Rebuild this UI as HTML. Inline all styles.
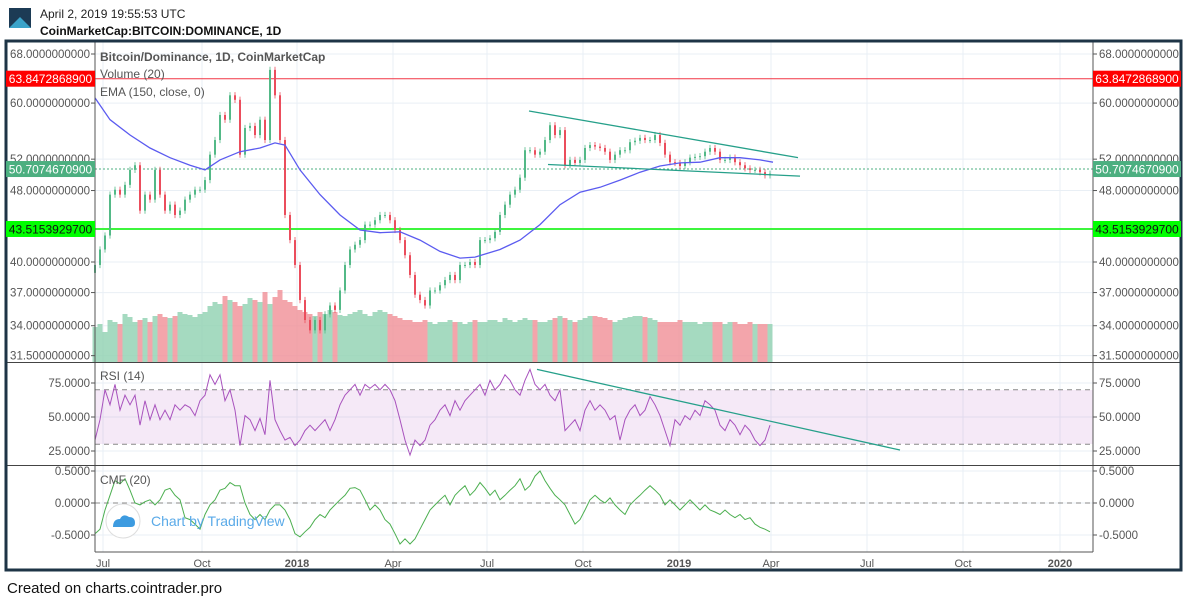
<!DOCTYPE html>
<html><head><meta charset="utf-8"><style>
body{margin:0;background:#fff;width:1187px;height:602px;overflow:hidden;font-family:"Liberation Sans",sans-serif}
svg text{font-family:"Liberation Sans",sans-serif}
</style></head><body>
<svg id="chart" width="1187" height="602" viewBox="0 0 1187 602" xmlns="http://www.w3.org/2000/svg">
<g>
 <polygon points="9,28 20,12 31,28" fill="#3aa3c9"/>
 <polygon points="9,28 9,8 31,8 31,28 20,17" fill="#1c3b55"/>
 <text x="40" y="18" font-size="12" fill="#222">April 2, 2019 19:55:53 UTC</text>
 <text x="40" y="35" font-size="12" font-weight="bold" fill="#111">CoinMarketCap:BITCOIN:DOMINANCE, 1D</text>
</g>
<g id="grid"></g>
<rect x="95" y="390" width="998" height="54" fill="#9c27b0" fill-opacity="0.1"/>
<g id="marks"></g>
<g id="frame">
 <line x1="95" y1="42" x2="95" y2="552" stroke="#555" stroke-width="1"/>
 <line x1="1093" y1="42" x2="1093" y2="552" stroke="#555" stroke-width="1"/>
 <line x1="6" y1="362.5" x2="1181" y2="362.5" stroke="#444"/>
 <line x1="6" y1="465.5" x2="1181" y2="465.5" stroke="#444"/>
 <line x1="95" y1="552" x2="1093" y2="552" stroke="#555"/>
 <rect x="6" y="41" width="1175" height="529" fill="none" stroke="#1e3446" stroke-width="3"/>
</g>
<g id="labels"></g>
<g font-size="12" fill="#555">
 <text x="100" y="61" font-weight="bold">Bitcoin/Dominance, 1D, CoinMarketCap</text>
 <text x="100" y="78">Volume (20)</text>
 <text x="100" y="96">EMA (150, close, 0)</text>
 <text x="100" y="380">RSI (14)</text>
 <text x="100" y="484">CMF (20)</text>
</g>
<g>
 <circle cx="123" cy="521" r="17" fill="#fff" fill-opacity="0.85" stroke="#ddd"/>
 <path d="M113,527 q0,-8 7,-8 q3,-6 9,-2 q6,0 6,6 q0,4 -4,4 z" fill="#3d9be0"/>
 <text x="151" y="526" font-size="14" fill="#5aaae8">Chart by TradingView</text>
</g>
<text x="7" y="593" font-size="15" fill="#111">Created on charts.cointrader.pro</text>
</svg>
<script>
const closes=[39.7,41.3,42.8,47.5,48.1,47.5,48.7,50.6,51.2,45.6,47.5,46.9,50.6,47.5,45.6,46.3,45.1,45.6,46.9,47.5,48.1,48.1,49.3,52.6,54.6,58.2,57.5,61.2,60.5,52.6,56.3,56.6,55.3,57.5,54.6,65.3,61.2,54.6,45.1,42.3,39.7,36.3,34.5,33.6,34.5,33.6,35.0,35.8,35.4,37.2,39.7,41.3,41.8,42.3,44.0,44.0,44.5,45.1,45.1,44.5,43.4,42.3,40.7,38.7,36.8,36.3,35.8,37.2,37.2,37.7,38.2,38.7,38.2,39.7,39.7,40.0,39.7,42.3,42.3,42.5,43.2,45.1,46.3,47.5,48.1,49.6,53.2,53.2,52.6,53.0,54.6,56.7,55.3,56.0,51.2,51.9,51.5,51.9,53.5,53.9,53.7,53.5,53.0,51.9,52.6,53.2,53.2,54.3,54.5,54.9,54.6,54.6,55.3,54.2,52.6,51.6,51.5,51.1,51.6,52.2,52.3,52.4,53.0,53.5,53.0,51.9,51.9,52.2,51.6,51.2,50.8,50.6,50.6,50.3,49.9,50.1];
const volumes=[35,38,30,42,40,38,48,45,40,42,44,40,46,48,45,44,46,50,48,47,45,48,50,56,60,58,66,62,60,56,58,64,62,60,70,58,65,72,62,60,56,52,50,48,46,50,48,52,50,47,46,48,50,52,48,46,50,52,50,48,46,44,42,42,40,40,42,40,38,40,40,42,40,40,38,40,42,40,40,42,42,40,44,42,40,42,44,42,42,40,40,42,44,46,44,42,40,42,44,46,46,45,44,42,40,42,44,45,46,46,45,44,42,40,40,40,40,42,40,40,40,38,40,40,40,40,38,40,40,38,38,40,38,38,38,38];
const emaIdx=[0,3,7,11,15,19,22,25,29,33,36,38,41,45,49,53,57,61,65,69,73,76,81,85,89,93,97,101,105,109,113,117,121,125,129,133,135.6];
const emaVals=[60.8,57.5,55.3,53.5,52.2,51.2,50.6,51.9,53.0,53.5,54.2,53.9,50.6,47.5,45.1,43.4,43.1,43.2,42.3,41.1,40.4,40.5,41.3,42.3,44.0,46.3,47.8,48.4,49.3,50.3,51.1,51.5,51.6,52.2,52.2,51.9,51.6];
const rsiVals=[33,48,70,59,74,55,66,59,66,44,62,48,59,48,55,48,59,55,59,57,51,62,66,81,74,81,62,70,55,29,51,48,40,49,37,77,48,40,33,35,29,33,40,44,40,44,48,40,48,59,66,70,74,66,74,71,74,70,74,70,62,48,33,22,33,29,33,44,48,55,59,51,62,55,62,66,70,74,66,77,70,74,81,77,70,66,77,85,74,70,74,66,62,70,40,44,48,40,55,62,55,59,55,48,51,33,48,55,59,51,55,65,59,51,40,29,48,44,51,48,55,51,62,59,55,44,40,48,44,37,44,40,33,29,33,44];
const cmfVals=[-0.48,-0.41,-0.11,0.12,0.35,0.30,0.38,0.20,0,-0.03,0.02,0.05,-0.03,0.05,0.20,0.23,0.12,0.05,-0.23,-0.26,-0.33,-0.41,-0.18,-0.03,0.05,0.20,0.23,0.32,0.27,0.27,0,-0.18,-0.26,-0.18,-0.26,-0.11,-0.03,-0.03,-0.11,-0.26,-0.48,-0.53,-0.45,-0.38,-0.26,-0.18,-0.23,-0.11,-0.03,0.05,0.12,0.23,0.24,0.20,0.05,-0.11,-0.03,-0.11,-0.26,-0.33,-0.48,-0.64,-0.56,-0.64,-0.56,-0.41,-0.26,-0.11,-0.03,0.05,0.12,-0.03,0.12,0.20,0.27,0.12,0.20,0.32,0.23,0.12,0.20,0.05,0.12,0.20,0.27,0.38,0.20,0.27,0.42,0.50,0.35,0.23,0.12,0.05,-0.03,-0.18,-0.33,-0.26,-0.11,0.05,0.12,0.05,0,0.08,-0.03,-0.11,-0.18,-0.03,0.05,0.12,0.20,0.27,0.20,0.12,-0.03,0.05,-0.03,-0.11,-0.03,0.05,-0.03,-0.11,-0.03,-0.11,-0.14,-0.18,-0.11,-0.18,-0.23,-0.18,-0.26,-0.23,-0.33,-0.38,-0.41,-0.45];
const priceTicks=[68,60,52,48,40,37,34,31.5];
const rsiTicks=[75,50,25];
const cmfTicks=[0.5,0,-0.5];
const timeLabels=["Jul","Oct","2018","Apr","Jul","Oct","2019","Apr","Jul","Oct","2020"];
const timeIdx=[1.6,21.4,40.4,59.6,78.4,97.6,116.8,135.2,154.4,173.6,193];
const levelVals=[63.8472868900,50.7074670900,43.5153929700];
const upperTrend=[[86.8,58.8],[140.6,52.2]];
const lowerTrend=[[90.6,51.3],[141,49.8]];
const rsiTrend=[[88.4,85],[161,25.7]];

const NS="http://www.w3.org/2000/svg";
const X=i=>95+5*i;
const Yp=v=>54+392*Math.log(68/v);
const Yr=v=>451-(v-25)*1.36;
const Yc=v=>503-v*64;
function mk(tag,attrs,parent){const e=document.createElementNS(NS,tag);for(const k in attrs)e.setAttribute(k,attrs[k]);parent.appendChild(e);return e;}
const grid=document.getElementById('grid'),marks=document.getElementById('marks'),labels=document.getElementById('labels');
const gc="#e9eff5";
timeIdx.forEach((t,k)=>{
 const l=mk('line',{x1:X(t),x2:X(t),y1:42,y2:552,stroke:gc},grid);
 
 
 const tx=mk('text',{x:X(t),y:567,'font-size':11,fill:'#555','text-anchor':'middle','font-weight':/^\d/.test(timeLabels[k])?'bold':'normal'},labels);
 tx.textContent=timeLabels[k];
 
 
});
function hTick(y,txt,name){
 const l=mk('line',{x1:95,x2:1093,y1:y,y2:y,stroke:gc},grid);
 
 
 [[90,'end'],[1099,'start']].forEach(([x,a])=>{
  const t=mk('text',{x:x,y:y+4,'font-size':11.5,fill:'#555','text-anchor':a},labels);
  t.textContent=txt;
  
  
  mk('line',{x1:a=='end'?91:1093,x2:a=='end'?95:1097,y1:y,y2:y,stroke:'#555'},labels);
 });
}
priceTicks.forEach(v=>hTick(Yp(v),v.toFixed(10),'price-tick-label'));
rsiTicks.forEach(v=>hTick(Yr(v),v.toFixed(4),'rsi-tick-label'));
cmfTicks.forEach(v=>hTick(Yc(v),v.toFixed(4),'cmf-tick-label'));
[70,30].forEach(v=>{const l=mk('line',{x1:95,x2:1093,y1:Yr(v),y2:Yr(v),stroke:'#888','stroke-dasharray':'5,4'},marks);
 
 });
{const l=mk('line',{x1:95,x2:1093,y1:Yc(0),y2:Yc(0),stroke:'#888','stroke-dasharray':'5,4'},marks);
 
 }
const n=Math.min(closes.length,volumes.length);
for(let i=0;i<n;i++){
 const up=i==0||closes[i]>=closes[i-1];
 const h=volumes[i];
 const r=mk('rect',{x:X(i)-2.5,y:362-h,width:5,height:h,fill:up?'#8fd1b0':'#f08f96','fill-opacity':0.8},marks);
 
 
}
const lvlCol=['#f23645','#4caf80','#3ef53e'],lvlBg=['#ff0000','#4caf80','#00ff00'],lvlTx=['#fff','#fff','#111'];
levelVals.forEach((v,k)=>{
 const y=Yp(v);
 const l=mk('line',{x1:95,x2:1093,y1:y,y2:y,stroke:lvlCol[k],'stroke-width':k==2?2:1,'stroke-dasharray':k==1?'2,2':'none'},marks);
 
 
 [[6,89],[1093,88]].forEach(([x,w])=>{
  mk('rect',{x:x,y:y-8,width:w,height:16,fill:lvlBg[k]},labels);
  const t=mk('text',{x:x+w/2,y:y+4.5,'font-size':12,fill:lvlTx[k],'text-anchor':'middle'},labels);
  t.textContent=v.toFixed(10);
  
  
 });
});
for(let i=0;i<closes.length;i++){
 const o=i?closes[i-1]:closes[0]*0.98,c=closes[i];
 const up=c>=o,col=up?'#53b987':'#eb4d5c';
 const hi=Math.max(o,c)*1.008,lo=Math.min(o,c)*0.992;
 const w=mk('line',{x1:X(i),x2:X(i),y1:Yp(hi),y2:Yp(lo),stroke:col,'stroke-width':0.8},marks);
 
 
 const b=mk('rect',{x:X(i)-1,y:Yp(Math.max(o,c)),width:2,height:Math.max(1,Math.abs(Yp(o)-Yp(c))),fill:col},marks);
 
 
}
function line(xs,ys,yf,col,name,w){
 const p=mk('path',{d:xs.map((x,i)=>(i?'L':'M')+X(x).toFixed(1)+','+yf(ys[i]).toFixed(1)).join(''),fill:'none',stroke:col,'stroke-width':w||1.2},marks);
 
 
}
line(emaIdx,emaVals,Yp,'#5b5bf0','ema-line',1.3);
line(rsiVals.map((_,i)=>i),rsiVals,Yr,'#a852bd','rsi-line',1);
line(cmfVals.map((_,i)=>i),cmfVals,Yc,'#4caf50','cmf-line',1);
[[upperTrend,Yp,'upper-trendline'],[lowerTrend,Yp,'lower-trendline'],[rsiTrend,Yr,'rsi-trendline']].forEach(([t,f,nm])=>{
 const l=mk('line',{x1:X(t[0][0]),y1:f(t[0][1]),x2:X(t[1][0]),y2:f(t[1][1]),stroke:'#26a08a','stroke-width':1.3},marks);
 
 
});
</script>
</body></html>
